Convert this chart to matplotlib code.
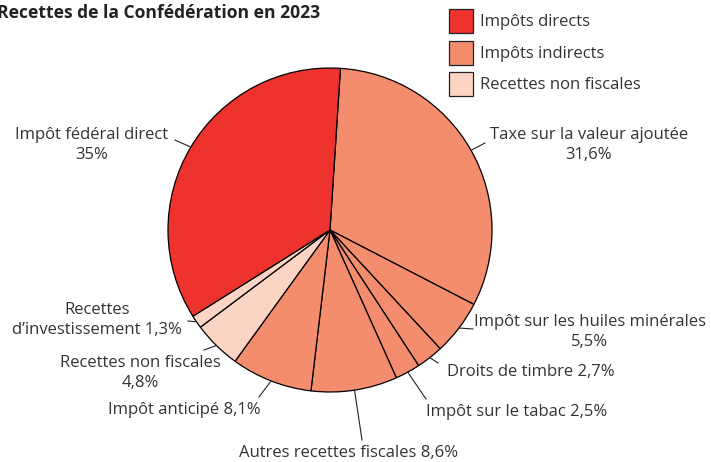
import matplotlib
matplotlib.use("Agg")
import matplotlib.pyplot as plt
from matplotlib.patches import Rectangle
import numpy as np

plt.rcParams['font.family'] = ['Open Sans', 'DejaVu Sans']

labels = ["Taxe sur la valeur ajoutée\n31,6%",
          "Impôt sur les huiles minérales\n5,5%",
          "Droits de timbre 2,7%",
          "Impôt sur le tabac 2,5%",
          "Autres recettes fiscales 8,6%",
          "Impôt anticipé 8,1%",
          "Recettes non fiscales\n4,8%",
          "Recettes\nd’investissement 1,3%",
          "Impôt fédéral direct\n35%"]
values = [31.6, 5.5, 2.7, 2.5, 8.6, 8.1, 4.8, 1.3, 35.0]
groups = ["ind", "ind", "ind", "ind", "ind", "ind", "nf", "nf", "dir"]
legend_labels = ["Impôts directs", "Impôts indirects", "Recettes non fiscales"]

col = {"dir": "#EE322D", "ind": "#F38D6E", "nf": "#FBD4C4"}
txtc = "#333333"

W, H = 711, 462
fig = plt.figure(figsize=(W / 100, H / 100), dpi=100)
ax = fig.add_axes([0, 0, 1, 1])

def P(x, y):
    return (x, H - y)

cx, cy = P(330, 230)
R = 162
wedges, _ = ax.pie(values, colors=[col[g] for g in groups], startangle=86.3,
                   counterclock=False, center=(cx, cy), radius=R,
                   wedgeprops=dict(edgecolor='black', linewidth=0.9),
                   frame=True)
ax.set_xlim(0, W)
ax.set_ylim(0, H)
ax.set_aspect('equal')
ax.axis('off')

# label layout: (leader end px, text pos px, ha)
layout = [
    ((485, 143), (589, 145), 'center'),
    ((473, 329), (590, 332), 'center'),
    ((438, 363), (447, 372), 'left'),
    ((426, 399), (426, 412), 'left'),
    ((362, 440), (349, 453), 'center'),
    ((259, 397), (261, 410), 'right'),
    ((204, 350), (140, 373), 'center'),
    ((188, 321), (97, 320), 'center'),
    ((175, 140), (92, 145), 'center'),
]
fs = 12.0
for w, lab, (le, tp, ha) in zip(wedges, labels, layout):
    mid = np.deg2rad((w.theta1 + w.theta2) / 2)
    sx, sy = cx + R * np.cos(mid), cy + R * np.sin(mid)
    ex, ey = P(*le)
    ax.plot([sx, ex], [sy, ey], color='#222222', lw=0.8)
    tx, ty = P(*tp)
    ax.text(tx, ty, lab, ha=ha, va='center', fontsize=fs, color=txtc,
            multialignment='center', linespacing=1.4)

# legend
lcols = [col["dir"], col["ind"], col["nf"]]
for i, (lab, c) in enumerate(zip(legend_labels, lcols)):
    top = 9 + i * 31.5
    x0, y0 = P(449, top + 24)
    ax.add_patch(Rectangle((x0, y0), 24, 24, facecolor=c, edgecolor='#222222', lw=0.9))
    tx, ty = P(480, top + 13)
    ax.text(tx, ty, lab, ha='left', va='center', fontsize=fs, color=txtc)

fig.text(-3 / W, 1 - 13 / H, "Recettes de la Confédération en 2023", ha='left', va='center',
         fontsize=12.6, fontweight='bold', color='#222222')

fig.savefig("out.png", dpi=100)
